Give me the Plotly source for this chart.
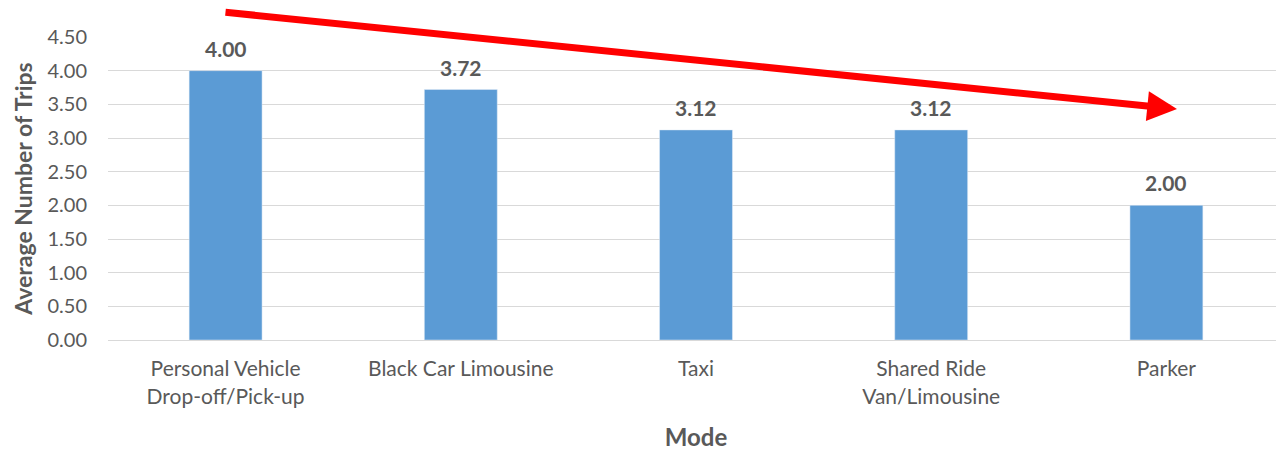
import plotly.graph_objects as go

categories = ["Personal Vehicle<br>Drop-off/Pick-up", "Black Car Limousine", "Taxi",
              "Shared Ride<br>Van/Limousine", "Parker"]
values = [4.00, 3.72, 3.12, 3.12, 2.00]
tick_vals = [0, 0.5, 1, 1.5, 2, 2.5, 3, 3.5, 4, 4.5]
tick_text = ["%.2f" % v for v in tick_vals]

FONT = "Lato"
GREY = "#595959"

fig = go.Figure()
fig.add_trace(go.Bar(
    x=categories, y=values,
    marker_color="#5b9bd5",
    cliponaxis=False,
))

for c, v in zip(categories, values):
    fig.add_annotation(
        x=c, y=v, xref="x", yref="y", text="%.2f" % v, showarrow=False,
        yanchor="bottom", yshift=8,
        font=dict(family=FONT, size=21, color=GREY, weight="bold"),
    )

fig.update_layout(
    width=1276, height=443,
    margin=dict(l=100, r=0, t=29, b=111),
    paper_bgcolor="white", plot_bgcolor="white",
    bargap=0.69,
    showlegend=False,
    xaxis=dict(
        tickfont=dict(family=FONT, size=21, color=GREY),
        title=dict(text="Mode", font=dict(family=FONT, size=24, color=GREY, weight="bold"), standoff=22),
        showline=True, linecolor="#d9d9d9", linewidth=1,
        ticks="", ticklabelstandoff=10,
    ),
    yaxis=dict(
        range=[0, 4.5],
        tickvals=tick_vals, ticktext=tick_text,
        tickfont=dict(family=FONT, size=20, color=GREY),
        showgrid=True, gridcolor="#d9d9d9", gridwidth=1,
        zeroline=False,
        title=dict(text="Average Number of Trips", font=dict(family=FONT, size=23, color=GREY, weight="bold"), standoff=8),
        ticks="", ticklabelstandoff=20,
    ),
)

fig.add_annotation(
    xref="paper", yref="paper", x=0.909, y=0.762,
    axref="pixel", ayref="pixel", ax=-953, ay=-97,
    text="", showarrow=True, arrowhead=2, arrowsize=0.85, arrowwidth=7,
    arrowcolor="#ff0000",
)

fig.write_html("out.html")
